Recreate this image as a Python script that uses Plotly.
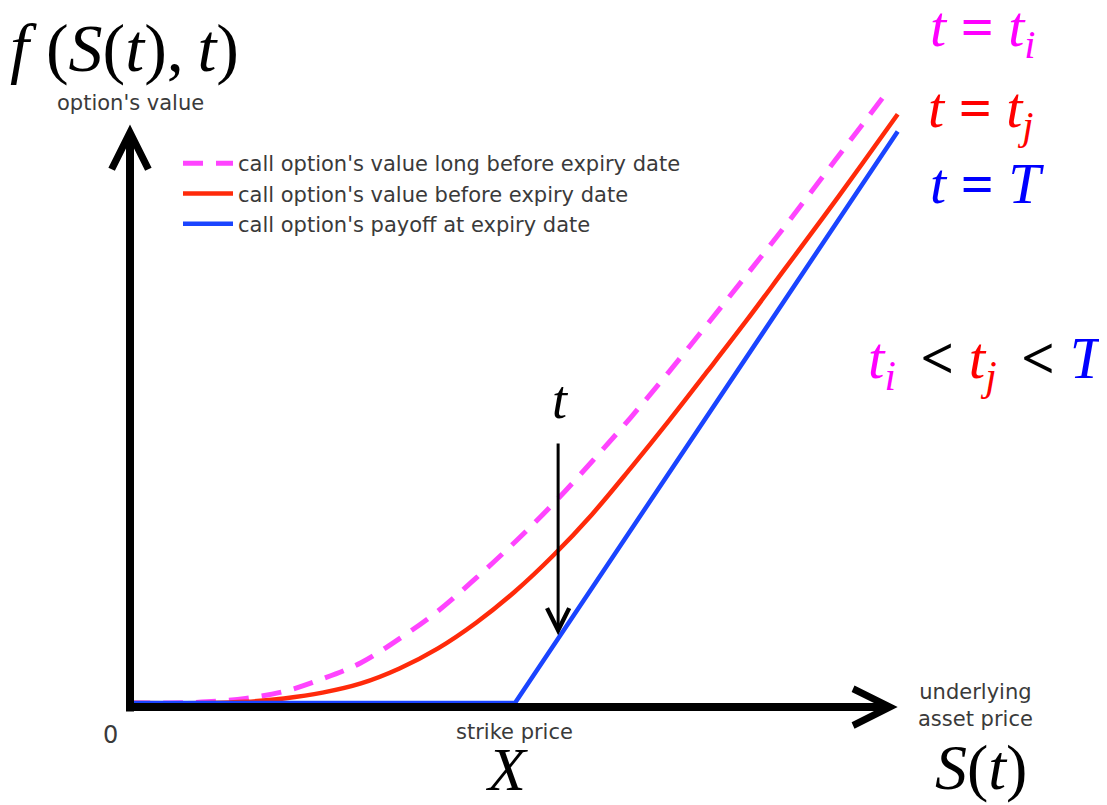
import plotly.graph_objects as go

# ---------------- data ----------------
strike = 5.0

S_long = [0, 0.5, 1, 1.5, 2, 2.5, 3, 3.5, 4, 4.5, 5, 5.5, 6, 6.5, 7, 7.5, 8, 8.5, 9, 9.5, 9.84]
V_long = [0, 0.0, 0.01, 0.04, 0.10, 0.21, 0.35, 0.56, 0.80, 1.09, 1.40, 1.735, 2.10, 2.48, 2.88, 3.295, 3.715, 4.14, 4.58, 5.02, 5.32]

S_before = [0, 1, 1.5, 2, 2.5, 3, 3.5, 4, 4.5, 5, 5.5, 6, 6.5, 7, 7.5, 8, 8.5, 9, 9.5, 9.97]
V_before = [0, 0.0, 0.01, 0.04, 0.09, 0.17, 0.30, 0.475, 0.70, 0.97, 1.285, 1.64, 2.04, 2.455, 2.885, 3.32, 3.77, 4.22, 4.68, 5.12]

S_payoff = [0, strike, 9.97]
V_payoff = [0, 0, 4.97]

legend_names = [
    "call option's value long before expiry date",
    "call option's value before expiry date",
    "call option's payoff at expiry date",
]

# ---------------- layout helpers (pixel placement) ----------------
PAGE_W, PAGE_H = 1107, 805
OFF = 8                       # default page margin around the plot div
W, H = PAGE_W - OFF, PAGE_H - OFF
X0_PX, Y0_PX = 130, 703       # page pixel of the data origin
SX, SY = 77.0, 115.0          # pixels per data unit


def px(x):
    return (x - OFF) / W


def py(y):
    return 1 - (y - OFF) / H


x_range = [-(X0_PX - OFF) / SX, (PAGE_W - X0_PX) / SX]
y_range = [-(PAGE_H - Y0_PX) / SY, (Y0_PX - OFF) / SY]

SANS = "DejaVu Sans"
SERIF = "Liberation Serif"
GRAY = "#3a3a3a"
NB = "\u00a0"
SP6 = "\u2006"

fig = go.Figure()
fig.add_trace(go.Scatter(x=S_long, y=V_long, mode="lines", name=legend_names[0],
                         line=dict(color="#ff44ff", width=5, dash="20px,13px", shape="spline")))
fig.add_trace(go.Scatter(x=S_before, y=V_before, mode="lines", name=legend_names[1],
                         line=dict(color="#ff2a0a", width=4.5, shape="spline")))
fig.add_trace(go.Scatter(x=S_payoff, y=V_payoff, mode="lines", name=legend_names[2],
                         line=dict(color="#1a44ff", width=4.5)))

ann = []
# axes drawn as arrows
axis_y = -0.035
ann.append(dict(x=9.97, y=axis_y, ax=-0.05, ay=axis_y, xref="x", yref="y", axref="x", ayref="y",
                showarrow=True, arrowhead=5, arrowwidth=8, arrowsize=0.9, arrowcolor="black", text=""))
ann.append(dict(x=0, y=5.03, ax=0, ay=-0.087, xref="x", yref="y", axref="x", ayref="y",
                showarrow=True, arrowhead=5, arrowwidth=8, arrowsize=0.9, arrowcolor="black", text=""))
# time arrow
arrow_S = 5.56
ann.append(dict(x=arrow_S, y=arrow_S - strike + 0.03, ax=arrow_S, ay=2.27, xref="x", yref="y",
                axref="x", ayref="y", showarrow=True, arrowhead=5, arrowwidth=3, arrowsize=1.45,
                arrowcolor="black", text=""))


def txt(text, x, y, size, color="black", family=SERIF, xanchor="center", yanchor="middle"):
    ann.append(dict(text=text, x=px(x), y=py(y), xref="paper", yref="paper", showarrow=False,
                    xanchor=xanchor, yanchor=yanchor, font=dict(size=size, color=color, family=family)))


txt("<i>f</i>" + NB + "(<i>S</i>(<i>t</i>)," + "\u2009" + "<i>t</i>)", 8, 48, 68, xanchor="left")
txt("option's value", 130, 103, 21, GRAY, SANS)
txt("0", 110, 735, 24, GRAY, SANS)
txt("strike price", 514, 732, 21, GRAY, SANS)
txt("<i>X</i>", 506, 805, 62, yanchor="bottom")
txt("underlying<br>asset price", 975, 705, 21, GRAY, SANS)
txt("<i>S</i>(<i>t</i>)", 981, 805, 64, yanchor="bottom")
txt("<i>t</i>", 560, 400, 54)

txt("<i>t</i>" + NB + "<b>=</b>" + NB + "<i>t</i><sub><i>i</i></sub>", 928, 31, 58, "#ff00ff", xanchor="left")
txt("<i>t</i>" + NB + "<b>=</b>" + NB + "<i>t</i><sub><i>j</i></sub>", 926, 112, 58, "#ff0000", xanchor="left")
txt("<i>t</i>" + NB + "<b>=</b>" + NB + "<i>T</i>", 928, 183, 58, "#0000ff", xanchor="left")
txt("<span style='color:#ff00ff'><i>t</i><sub><i>i</i></sub></span>" + SP6 + NB + "<b>&lt;</b>" + NB
    + "<span style='color:#ff0000'><i>t</i><sub><i>j</i></sub></span>" + SP6 + NB + "<b>&lt;</b>" + NB
    + "<span style='color:#0000ff'><i>T</i></span>", 866, 362, 59, "black", xanchor="left")

fig.update_layout(
    width=W, height=H,
    margin=dict(l=0, r=0, t=0, b=0),
    paper_bgcolor="white", plot_bgcolor="white",
    xaxis=dict(range=x_range, visible=False, fixedrange=True),
    yaxis=dict(range=y_range, visible=False, fixedrange=True),
    showlegend=True,
    legend=dict(x=px(178), y=py(143), xanchor="left", yanchor="top", itemwidth=50,
                font=dict(family=SANS, size=21, color=GRAY), bgcolor="rgba(0,0,0,0)",
                traceorder="normal"),
    annotations=ann,
)

fig.write_html("out.html")
